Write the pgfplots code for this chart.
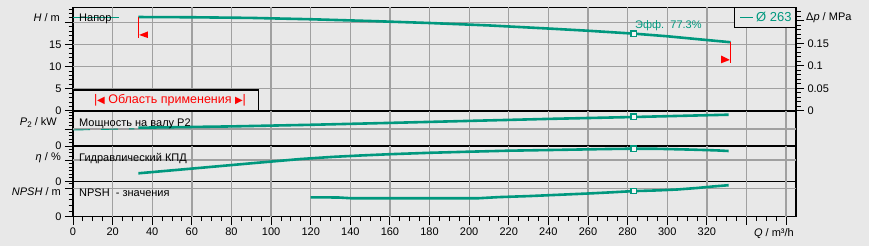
\documentclass[border=0pt]{standalone}
\usepackage{pgfplots}
\pgfplotsset{compat=1.18}
\usepackage{fontspec}
\setmainfont{Liberation Sans}
\newfontfamily\dejavu{DejaVu Sans}
\definecolor{bg}{RGB}{232,232,232}
\definecolor{gridc}{RGB}{160,160,160}
\definecolor{curve}{RGB}{0,152,126}
\definecolor{flag}{RGB}{255,0,0}
\tikzset{gl/.style={draw=gridc, line width=1.3pt}}
\pgfplotsset{
  panel/.style={
    scale only axis, width=723pt, xmin=0, xmax=365,
    axis line style={black, line width=1.5pt},
    tick align=outside, xtick pos=lower, ytick pos=left,
    major tick length=8pt, minor tick length=4.5pt,
    tick style={black, line width=0.9pt},
    xtick={0,20,...,360},
    tick label style={font=\fontsize{11}{13}\selectfont, text=black},
    /pgf/number format/assume math mode=true,
    clip=false,
  },
  upper/.style={xticklabels={}, major x tick style={draw=none}},
  curveline/.style={curve, line width=2.6pt, line join=round},
  pmark/.style={only marks, mark=square*, mark size=2.6pt, mark options={draw=curve, fill=bg!40!white, line width=1.3pt}},
}
\newcommand\vgrid[1]{\pgfplotsinvokeforeach{20,40,60,80,100,120,140,160,180,200,220,240,260,280,300,320,340,360}{\draw[gl] (axis cs:##1,0) -- (axis cs:##1,#1);}}
\begin{document}
\begin{tikzpicture}[font=\fontsize{11}{13}\selectfont]
\fill[bg] (0pt,0pt) rectangle (869pt,-246pt);

% ---------- Panel 1: H ----------
\begin{axis}[panel, upper, height=103.5pt, at={(73pt,-110.8pt)}, anchor=south west,
  ymin=0, ymax=23.4, ytick={0,5,10,15,20}, yticklabels={0,5,10,15,{}},
  minor ytick={1,2,3,4,6,7,8,9,11,12,13,14,16,17,18,19,21,22,23}]
\vgrid{23.4}
\pgfplotsinvokeforeach{5,10,15,20}{\draw[gl] (axis cs:0,#1) -- (axis cs:365,#1);}
\addplot[curve, line width=0.9pt] coordinates {(0,21.2) (23,21.2)};
\addplot[curveline] coordinates {(33,21.2) (60,21.15) (90,21.0) (120,20.7) (150,20.3) (180,19.85) (210,19.3) (240,18.6) (260,18.1) (283,17.45) (300,16.85) (320,16.0) (332,15.5)};
\addplot[pmark] coordinates {(283,17.45)};
% application range flags
\addplot[flag, line width=1pt] coordinates {(33,21.2) (33,16.55)};
\fill[flag] (axis cs:33.4,17.15) -- (axis cs:37.8,17.95) -- (axis cs:37.8,16.45) -- cycle;
\addplot[flag, line width=1pt] coordinates {(332,15.5) (332,10.85)};
\fill[flag] (axis cs:331.6,11.5) -- (axis cs:327.2,12.5) -- (axis cs:327.2,10.75) -- cycle;
\end{axis}

% right axis: delta p
\begin{axis}[scale only axis, width=723pt, height=103.5pt, at={(73pt,-110.8pt)}, anchor=south west,
  xmin=0, xmax=365, ymin=0, ymax=0.2298, hide x axis, axis y line*=right,
  axis line style={black, line width=1.5pt},
  tick align=outside, major tick length=8pt, minor tick length=4.5pt,
  tick style={black, line width=0.9pt},
  ytick={0,0.05,0.1,0.15,0.2}, yticklabels={0,0.05,0.1,0.15,{}},
  minor ytick={0.01,0.02,0.03,0.04,0.06,0.07,0.08,0.09,0.11,0.12,0.13,0.14,0.16,0.17,0.18,0.19,0.21,0.22},
  tick label style={font=\fontsize{11}{13}\selectfont, text=black}]
\addplot[draw=none] coordinates {(0,0) (365,0.2)};
\end{axis}

% ---------- Panel 2: P2 ----------
\begin{axis}[panel, upper, height=35.2pt, at={(73pt,-146pt)}, anchor=south west,
  ymin=0, ymax=35.2, ytick={0,17}, yticklabels={0,{}},
  minor ytick={3.4,6.8,10.2,13.6,20.4,23.8,27.2,30.6,34}]
\vgrid{35.2}
\draw[gl] (axis cs:0,17) -- (axis cs:365,17);
\addplot[curve, line width=0.9pt, dash pattern=on 17pt off 11pt] coordinates {(0,16) (31,17.2)};
\addplot[curveline] coordinates {(33,18.3) (80,19.6) (120,21.2) (160,23.1) (200,25.1) (240,27.1) (283,29.0) (331,31.3)};
\addplot[pmark] coordinates {(283,29.3)};
\end{axis}

% ---------- Panel 3: eta ----------
\begin{axis}[panel, upper, height=35.3pt, at={(73pt,-181.3pt)}, anchor=south west,
  ymin=0, ymax=35.3, ytick={0,21.3}, yticklabels={0,{}},
  minor ytick={3.55,7.1,10.65,14.2,17.75,24.85,28.4,31.95}]
\vgrid{35.3}
\draw[gl] (axis cs:0,21.3) -- (axis cs:365,21.3);
\addplot[curveline] coordinates {(33,8.0) (60,12.7) (90,18.0) (115,22.3) (131,24.4) (145,25.8) (160,27.1) (180,28.5) (200,29.6) (220,30.6) (250,31.6) (270,32.3) (283,32.6) (295,32.5) (312,31.7) (325,30.9) (331,30.3)};
\addplot[pmark] coordinates {(283,32.6)};
\end{axis}

% ---------- Panel 4: NPSH ----------
\begin{axis}[panel, height=35.4pt, at={(73pt,-216.7pt)}, anchor=south west,
  ymin=0, ymax=35.4, ytick={0,28}, yticklabels={0,{}},
  minor ytick={5.6,11.2,16.8,22.4,33.6}, minor x tick num=3,
  xticklabels={0,20,40,60,80,100,120,140,160,180,200,220,240,260,280,300,320,{},{}}]
\vgrid{35.4}
\draw[gl] (axis cs:0,28) -- (axis cs:365,28);
\addplot[curveline] coordinates {(120,19.4) (134,19.2) (140,18.5) (205,18.5) (215,19.6) (230,20.6) (245,21.9) (260,23.2) (272,24.4) (283,25.6) (295,26.3) (305,27.2) (315,28.7) (323,30.2) (331,31.5)};
\addplot[pmark] coordinates {(283,25.8)};
\end{axis}

% ---------- boxes and texts ----------
\draw[black, line width=1.5pt, fill=bg] (73pt,-90pt) rectangle (258.3pt,-110.8pt);
\node[anchor=center, inner sep=0, text=flag, font=\fontsize{12.5}{14}\selectfont] at (170pt,-100.7pt)
  {|\kern-0.3pt{\dejavu\fontsize{10}{12}\selectfont ◀}\ Область применения\ {\dejavu\fontsize{10}{12}\selectfont ▶}\kern-0.3pt|};

\draw[black, line width=1.2pt, fill=bg] (734.5pt,-7.3pt) rectangle (796pt,-27.3pt);
\draw[curve, line width=1pt] (740pt,-17.3pt) -- (753pt,-17.3pt);
\node[anchor=west, inner sep=0, text=curve, font=\fontsize{13}{15}\selectfont] at (756pt,-17.3pt) {Ø 263};

\node[anchor=west, inner sep=0, text=curve] at (635pt,-25.8pt) {Эфф.\ \ 77.3\%};

\node[anchor=west, inner sep=0] at (79pt,-19pt) {Напор};
\node[anchor=west, inner sep=0] at (79pt,-123.3pt) {Мощность на валу P2};
\node[anchor=west, inner sep=0] at (79pt,-158.3pt) {Гидравлический КПД};
\node[anchor=west, inner sep=0] at (79pt,-192.7pt) {NPSH\ \ - значения};

\node[anchor=east, inner sep=0] at (60pt,-17.5pt) {\textit{H} / m};
\node[anchor=east, inner sep=0] at (57pt,-122.5pt) {\textit{P}\raisebox{-1.5pt}{\fontsize{8}{9}\selectfont 2} / kW};
\node[anchor=east, inner sep=0] at (61pt,-157.5pt) {\textit{η} / \%};
\node[anchor=east, inner sep=0] at (61pt,-191.7pt) {\textit{NPSH} / m};
\node[anchor=west, inner sep=0] at (806pt,-17.5pt) {Δ\textit{p} / MPa};
\node[anchor=east, inner sep=0] at (794pt,-234pt) {\textit{Q} / m³/h};
\end{tikzpicture}
\end{document}
